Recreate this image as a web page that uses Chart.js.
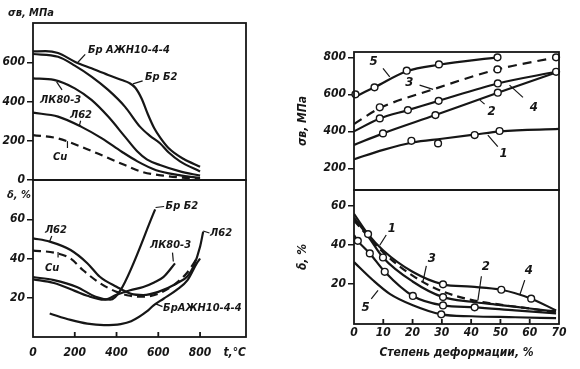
<!DOCTYPE html>
<html>
<head>
<meta charset="utf-8">
<script src="https://cdn.jsdelivr.net/npm/chart.js@4.4.1/dist/chart.umd.min.js"></script>
<style>
  html, body { margin: 0; padding: 0; background: #fff; }
  #wrap { position: relative; width: 580px; height: 369px; }
  #wrap canvas { position: absolute; left: 0; top: 0; }
</style>
</head>
<body>
<div id="wrap">
  <canvas id="sig-t" width="580" height="369"></canvas>
  <canvas id="del-t" width="580" height="369"></canvas>
  <canvas id="sig-e" width="580" height="369"></canvas>
  <canvas id="del-e" width="580" height="369"></canvas>
</div>
<script>
// left panel: temperature, °C
const tTicks = [0, 200, 400, 600, 800];
const sigTicksL = [0, 200, 400, 600];
const delTicksL = [20, 40, 60];

// sigma_b, MPa vs t
const sigBrB2 = [[0, 655], [60, 657], [120, 647], [200, 603], [280, 569], [360, 535], [425, 510], [460, 495], [490, 470], [520, 415], [550, 335], [580, 265], [610, 215], [650, 162], [720, 108], [800, 68]];
const sigBrAzh = [[0, 642], [120, 628], [200, 583], [280, 527], [360, 459], [440, 374], [512, 272], [560, 225], [608, 187], [650, 140], [704, 95], [800, 43]];
const sigLK = [[0, 518], [100, 510], [200, 467], [280, 408], [360, 323], [440, 221], [500, 145], [545, 105], [608, 76], [700, 45], [800, 22]];
const sigL62 = [[0, 343], [120, 323], [230, 272], [330, 212], [425, 144], [500, 95], [590, 50], [700, 25], [800, 10]];
const sigCu = [[0, 229], [120, 212], [230, 170], [345, 119], [440, 76], [520, 42], [640, 20], [800, 5]];

// delta, % vs t
const delL62 = [[0, 50.3], [80, 48.6], [180, 44.3], [260, 37.6], [320, 30.7], [400, 25.6], [470, 22], [528, 21.4], [600, 23], [688, 27.3], [740, 31], [768, 35.8], [800, 46], [815, 53.7]];
const delCu = [[0, 44], [100, 43], [180, 40], [240, 34], [320, 27.5], [400, 23], [465, 21], [530, 20.5], [600, 22], [680, 27], [740, 33], [790, 41]];
const delLK = [[0, 29.4], [100, 27.5], [200, 23.5], [260, 21], [340, 19], [400, 21.5], [465, 23.8], [528, 25.5], [580, 27.8], [624, 30.5], [680, 37.5]];
const delBrB2 = [[0, 30.5], [100, 29], [210, 25.5], [300, 20.5], [370, 19], [420, 24], [585, 65]];
const delBrAzh = [[80, 12], [180, 8.7], [260, 6.8], [340, 6.1], [420, 6.6], [470, 8], [545, 13], [576, 16], [625, 19.5], [688, 24], [740, 29], [784, 37.5], [800, 40]];

// right panel: degree of deformation, %
const eTicks = [0, 10, 20, 30, 40, 50, 60, 70];
const sigTicksR = [200, 400, 600, 800];
const delTicksR = [20, 40, 60];

const sigE1 = [[0, 249], [10, 300], [20, 340], [30, 360], [41, 382], [50, 400], [70, 413]];
const sigE1m = [[19.6, 349], [28.7, 335], [41.2, 380], [49.7, 402]];
const sigE2 = [[0, 326], [9.9, 389], [27.8, 488], [49.1, 609], [69, 718]];
const sigE2m = [[9.9, 389], [27.8, 488], [49.1, 609]];
const sigE3 = [[0, 440], [8.8, 525], [27, 627], [49, 735], [69, 800]];
const sigE3m = [[8.8, 530], [49, 735], [69, 800]];
const sigE4 = [[0, 400], [8.8, 470], [18.4, 515], [28.9, 565], [49.1, 659], [69, 722]];
const sigE4m = [[8.8, 470], [18.4, 515], [28.9, 565], [49.1, 659], [69, 722]];
const sigE5 = [[0, 585], [7, 638], [18, 725], [29, 760], [49, 800]];
const sigE5m = [[0.5, 600], [7, 638], [18, 728], [29, 762], [49, 800]];

const delE1 = [[0, 54], [5, 44], [9.9, 33.4], [20, 21], [30.4, 12.9], [40, 10.5], [50, 8.8], [60, 7], [69, 5.5]];
const delE1m = [[9.9, 33.4], [30.4, 12.9]];
const delE2 = [[0, 45], [1.3, 42], [5.4, 35.5], [10.5, 26], [20.1, 13.5], [30.4, 8.6], [41.2, 7.6], [55, 6], [69, 4.5]];
const delE2m = [[1.3, 42], [5.4, 35.5], [10.5, 26], [20.1, 13.5], [30.4, 8.6], [41.2, 7.6]];
const delE3 = [[0, 52.5], [10, 36], [20, 24], [30, 16], [40, 11.5], [50, 9], [60, 7], [69, 5]];
const delE4 = [[0, 56], [4.8, 45.5], [10, 37], [20, 26], [30.4, 19.5], [40, 18.3], [50.3, 16.7], [60.5, 12.1], [69, 6]];
const delE4m = [[4.8, 45.5], [30.4, 19.5], [50.3, 16.7], [60.5, 12.1]];
const delE5 = [[0, 31], [6.5, 21.6], [12.2, 14.6], [20.1, 8.7], [29.8, 4], [40, 3], [55, 2.5], [69, 2]];
const delE5m = [[29.8, 4]];

const ink = '#161616';
const face = "'DejaVu Sans Condensed', 'DejaVu Sans', sans-serif";
Chart.defaults.font.family = face;
Chart.defaults.font.size = 12;
Chart.defaults.font.style = 'italic';
Chart.defaults.font.weight = 'bold';
Chart.defaults.color = ink;

const xy = a => a.map(([x, y]) => ({x, y}));
const curve = (pts, dash) => ({
  data: xy(pts), borderColor: ink, borderWidth: 2.2, borderDash: dash || [],
  pointRadius: 0, cubicInterpolationMode: 'monotone', fill: false, order: 2
});
const marks = pts => ({
  data: xy(pts), showLine: false, pointRadius: 3.4, pointBorderWidth: 1.4,
  pointBackgroundColor: '#fff', pointBorderColor: ink, clip: false, order: 1
});

const framePlugin = {
  id: 'frame',
  afterDraw(chart, args, opts) {
    const {ctx, chartArea: a, scales: {x}} = chart;
    ctx.save();
    ctx.strokeStyle = ink;
    ctx.lineWidth = 1.8;
    ctx.strokeRect(a.left, a.top, a.right - a.left, a.bottom - a.top);
    if (opts.innerTicks) {
      ctx.beginPath();
      x.ticks.forEach(t => {
        if (t.value <= x.min || t.value >= x.max) return;
        const px = x.getPixelForValue(t.value);
        ctx.moveTo(px, a.bottom);
        ctx.lineTo(px, a.bottom - 5);
      });
      ctx.stroke();
    }
    ctx.restore();
  }
};

const notesPlugin = {
  id: 'notes',
  afterDraw(chart, args, opts) {
    const {ctx, scales: {x, y}} = chart;
    ctx.save();
    ctx.fillStyle = ink;
    ctx.strokeStyle = ink;
    ctx.lineWidth = 1.2;
    ctx.textBaseline = 'middle';
    (opts.items || []).forEach(n => {
      if (n.line) {
        ctx.beginPath();
        ctx.moveTo(x.getPixelForValue(n.line[0]), y.getPixelForValue(n.line[1]));
        ctx.lineTo(x.getPixelForValue(n.line[2]), y.getPixelForValue(n.line[3]));
        ctx.stroke();
      }
      ctx.font = 'italic bold ' + (n.size || 11) + 'px ' + face;
      ctx.fillText(n.text, x.getPixelForValue(n.x), y.getPixelForValue(n.y));
    });
    ctx.restore();
  }
};

function xAxis(min, max, ticks, show, height, pad, title) {
  return {
    type: 'linear', min, max, display: show,
    afterFit: s => { s.height = height; },
    afterBuildTicks: s => { s.ticks = ticks.map(v => ({value: v})); },
    grid: {drawOnChartArea: false, drawTicks: false},
    border: {display: false},
    ticks: {padding: pad, autoSkip: false, maxRotation: 0},
    title: title ? Object.assign({display: true, padding: {top: 0, bottom: 4}}, title) : {display: false}
  };
}

function yAxis(min, max, ticks, width, title) {
  return {
    min, max,
    afterFit: s => { s.width = width; },
    afterBuildTicks: s => { s.ticks = ticks.map(v => ({value: v})); },
    grid: {drawOnChartArea: false, drawTicks: true, tickLength: 6, color: ink, lineWidth: 1.5},
    border: {display: false},
    ticks: {padding: 2},
    title: title ? {display: true, text: title, padding: 0} : {display: false}
  };
}

function plot(id, pad, xs, ys, sets, notes) {
  return new Chart(document.getElementById(id), {
    type: 'line',
    data: {datasets: sets},
    options: {
      responsive: false, animation: false, events: [],
      layout: {padding: pad},
      plugins: {
        legend: {display: false}, tooltip: {enabled: false},
        frame: {innerTicks: xs.display !== false},
        notes: {items: notes}
      },
      scales: {x: xs, y: ys}
    },
    plugins: [framePlugin, notesPlugin]
  });
}

plot('sig-t', {left: 0, top: 23, right: 334, bottom: 189},
  xAxis(0, 1020, tTicks, false, 0, 0),
  yAxis(0, 800, sigTicksL, 33),
  [curve(sigBrB2), curve(sigBrAzh), curve(sigLK), curve(sigL62), curve(sigCu, [8, 5])],
  [
    {text: 'σв, МПа', x: -120, y: 851},
    {text: 'Бр АЖН10-4-4', x: 263, y: 662, line: [250, 640, 215, 600]},
    {text: 'Бр Б2', x: 536, y: 525, line: [525, 505, 478, 490]},
    {text: 'ЛК80-3', x: 34, y: 408, line: [139, 459, 113, 500]},
    {text: 'Л62', x: 177, y: 331, line: [228, 302, 222, 276]},
    {text: 'Cu', x: 96, y: 117, line: [165, 163, 165, 198]}
  ]);

plot('del-t', {left: 0, top: 180, right: 334, bottom: 8},
  xAxis(0, 1020, tTicks, true, 24, 9, {text: 't,°C', align: 'end', padding: {top: 0, bottom: 1}}),
  yAxis(0, 80, delTicksL, 33),
  [curve(delL62), curve(delCu, [8, 5]), curve(delLK), curve(delBrB2), curve(delBrAzh)],
  [
    {text: 'δ, %', x: -125, y: 72.5},
    {text: 'Л62', x: 57, y: 54.5, line: [90, 51.5, 80, 48.8]},
    {text: 'Cu', x: 57, y: 35, line: [120, 40.5, 120, 43.3]},
    {text: 'Бр Б2', x: 635, y: 66.5, line: [587, 66, 628, 66.5]},
    {text: 'ЛК80-3', x: 560, y: 47, line: [668, 43, 672, 38.5]},
    {text: 'Л62', x: 848, y: 53, line: [815, 54, 845, 53]},
    {text: 'БрАЖН10-4-4', x: 623, y: 14.8, line: [620, 15.5, 585, 17]}
  ]);

plot('sig-e', {left: 296, top: 52, right: 21, bottom: 179},
  xAxis(0, 70, eTicks, false, 0, 0),
  yAxis(83, 829, sigTicksR, 58, 'σв, МПа'),
  [marks(sigE1m), marks(sigE2m), marks(sigE3m), marks(sigE4m), marks(sigE5m),
   curve(sigE1), curve(sigE2), curve(sigE3, [9, 6]), curve(sigE4), curve(sigE5)],
  [
    {text: '5', x: 5.3, y: 775, size: 13, line: [9.9, 740, 12.2, 695]},
    {text: '3', x: 17.5, y: 666, size: 13, line: [22.4, 650, 27, 627]},
    {text: '2', x: 45.6, y: 504, size: 13, line: [44.6, 547, 43, 569]},
    {text: '4', x: 60, y: 531, size: 13, line: [57.7, 584, 53.1, 650]},
    {text: '1', x: 49.7, y: 282, size: 13, line: [49.1, 317, 45.7, 380]}
  ]);

plot('del-e', {left: 296, top: 190, right: 21, bottom: 5},
  xAxis(0, 70, eTicks, true, 40, 2, {text: 'Степень деформации, %'}),
  yAxis(-1, 68.3, delTicksR, 58, 'δ, %'),
  [marks(delE1m), marks(delE2m), marks(delE4m), marks(delE5m),
   curve(delE1), curve(delE2), curve(delE3, [8, 5]), curve(delE4), curve(delE5)],
  [
    {text: '1', x: 11.5, y: 48.5, size: 13, line: [11, 45, 8.8, 39.7]},
    {text: '3', x: 25.2, y: 33, size: 13, line: [24.7, 29, 23.5, 20.7]},
    {text: '2', x: 43.6, y: 28.5, size: 13, line: [43.5, 23.7, 42.3, 11.2]},
    {text: '4', x: 58.3, y: 26.7, size: 13, line: [58.3, 21.7, 56.6, 14]},
    {text: '5', x: 2.6, y: 7.5, size: 13, line: [5.9, 12, 8.2, 16.4]}
  ]);
</script>
</body>
</html>
